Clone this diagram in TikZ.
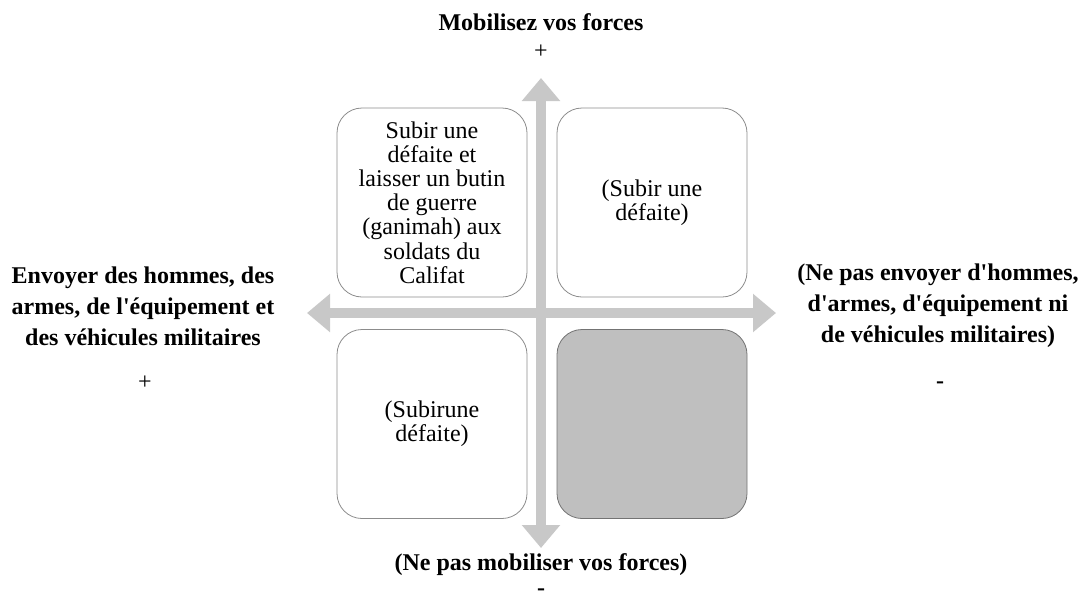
\documentclass[tikz,border=0pt]{standalone}
\usepackage{fontspec}
\setmainfont{Liberation Serif}
\usetikzlibrary{arrows.meta}
\usetikzlibrary{positioning}
\definecolor{axisgray}{RGB}{200,200,200}
\definecolor{boxline}{RGB}{140,140,140}
\definecolor{boxfill}{RGB}{191,191,191}
\newcommand{\apos}{\textquotesingle}
\tikzset{
	label/.style={
		font=\bfseries\fontsize{24}{31}\selectfont,
		align=center,
		inner sep=0pt,
	},
	sign/.style={
		font=\fontsize{24}{24}\selectfont,
		inner sep=0pt,
	},
	cell/.style={
		draw=boxline,
		line width=0.8pt,
		rounded corners=25pt,
		minimum width=190pt,
		minimum height=189pt,
		align=center,
		font=\fontsize{24}{24.2}\selectfont,
	},
	blank/.style={
		fill=boxfill,
		draw=black!55,
	},
	axis/.style={
		draw=axisgray,
		line width=10pt,
		{Triangle[width=37pt,length=23pt,fill=axisgray]}-{Triangle[width=37pt,length=23pt,fill=axisgray]}
	},
}

\begin{document}
\begin{tikzpicture}[x=1pt,y=-1pt]
		\useasboundingbox (0,0) rectangle (1083,605);

		% the four cells
		\node[cell] (TL) at (432,202.5) {Subir une\\ défaite et\\ laisser un butin\\ de guerre\\ (ganimah) aux\\ soldats du\\ Califat};
		\node[cell] (TR) at (652,202.5) {(Subir une\\ défaite)};
		\node[cell] (BL) at (432,424) {(Subirune\\ défaite)};
		\node[cell,blank] (BR) at (652,424) {};

		% axes
		\coordinate (N) at (541,78);
		\coordinate (S) at (541,548);
		\coordinate (W) at (307,313);
		\coordinate (E) at (776,313);
		\draw[axis] (S) -- (N);
		\draw[axis] (W) -- (E);

		% axis labels
		\node[label] (top) at (541,22) {Mobilisez vos forces};
		\node[sign] (topsign) at (541,52) {+};
		\node[label] (left) at (143,306) {Envoyer des hommes, des\\ armes, de l\apos équipement et\\ des véhicules militaires};
		\node[sign] (leftsign) at (145,383) {+};
		\node[label] (right) at (938,306) {(Ne pas envoyer d\apos hommes,\\ d\apos armes, d\apos équipement ni\\ de véhicules militaires)};
		\node[sign,font=\bfseries\fontsize{24}{24}\selectfont] (rightsign) at (940,385) {-};
		\node[label] (bottom) at (541,565) {(Ne pas mobiliser vos forces)};
		\node[sign,font=\bfseries\fontsize{24}{24}\selectfont] (bottomsign) at (541,592) {-};

	\end{tikzpicture}
\end{document}
